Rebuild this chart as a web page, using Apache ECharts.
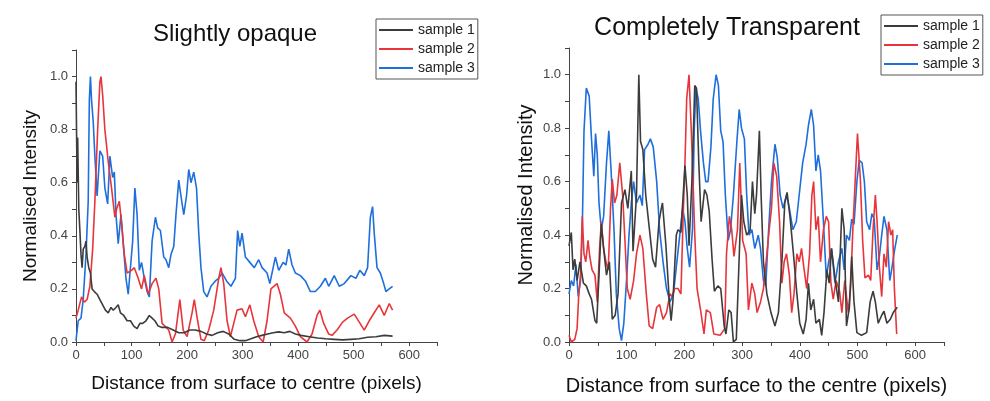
<!DOCTYPE html>
<html>
<head>
<meta charset="utf-8">
<script src="https://cdn.jsdelivr.net/npm/echarts@6/dist/echarts.min.js"></script>
<style>
  html, body { margin: 0; padding: 0; background: #fff; }
  #chart { width: 990px; height: 401px; }
</style>
</head>
<body>
<div id="chart"></div>
<script>
// Slightly opaque, [distance, intensity]
const opaque1 = [[0,0.98],[2,0.6],[3,0.77],[5,0.5],[7,0.42],[9,0.33],[11,0.28],[13,0.35],[16,0.36],[18,0.38],[20,0.32],[23,0.28],[26,0.26],[29,0.2],[33,0.19],[38,0.18],[43,0.16],[48,0.14],[53,0.12],[58,0.11],[63,0.13],[67,0.12],[72,0.13],[76,0.14],[80,0.11],[86,0.1],[92,0.08],[98,0.08],[104,0.06],[110,0.05],[115,0.07],[120,0.07],[126,0.08],[132,0.1],[137,0.09],[142,0.08],[148,0.06],[155,0.055],[165,0.055],[175,0.045],[185,0.035],[195,0.035],[205,0.045],[215,0.045],[225,0.04],[235,0.03],[245,0.025],[255,0.035],[265,0.04],[275,0.03],[285,0.01],[295,0.005],[305,0.005],[315,0.012],[325,0.02],[335,0.025],[345,0.03],[355,0.035],[365,0.038],[375,0.035],[385,0.04],[395,0.03],[405,0.025],[420,0.02],[435,0.015],[450,0.012],[465,0.01],[480,0.008],[495,0.01],[510,0.012],[525,0.018],[540,0.02],[555,0.025],[570,0.022]];
const opaque2 = [[0,0.09],[4,0.12],[10,0.17],[15,0.15],[20,0.16],[25,0.21],[30,0.35],[34,0.53],[39,0.8],[43,0.98],[45,1.0],[48,0.93],[52,0.8],[58,0.68],[64,0.58],[70,0.47],[73,0.5],[78,0.53],[82,0.45],[87,0.33],[92,0.26],[100,0.27],[105,0.28],[112,0.24],[118,0.2],[123,0.25],[130,0.18],[137,0.22],[144,0.24],[149,0.2],[155,0.07],[160,0.06],[167,0.045],[173,0.0],[179,0.03],[187,0.16],[193,0.045],[200,0.02],[209,0.11],[213,0.16],[219,0.08],[225,0.01],[231,0.005],[239,0.045],[248,0.12],[257,0.24],[261,0.28],[266,0.22],[272,0.08],[278,0.02],[284,0.07],[290,0.12],[299,0.125],[305,0.095],[313,0.14],[320,0.08],[329,0.02],[337,0.0],[344,0.08],[351,0.2],[362,0.22],[368,0.18],[375,0.11],[386,0.09],[395,0.06],[404,0.02],[416,0.0],[425,0.03],[434,0.1],[439,0.12],[446,0.07],[455,0.03],[461,0.025],[470,0.045],[480,0.075],[489,0.09],[501,0.105],[510,0.075],[519,0.045],[528,0.08],[537,0.11],[546,0.14],[555,0.1],[564,0.145],[570,0.12]];
const opaque3 = [[0,0.005],[4,0.08],[9,0.09],[13,0.16],[18,0.33],[22,0.53],[24,0.91],[26,1.0],[28,0.91],[31,0.83],[34,0.7],[38,0.55],[43,0.72],[48,0.7],[52,0.58],[57,0.52],[61,0.7],[66,0.62],[69,0.64],[72,0.48],[76,0.37],[81,0.48],[85,0.37],[90,0.24],[94,0.18],[97,0.18],[102,0.38],[106,0.58],[110,0.48],[114,0.27],[118,0.3],[123,0.24],[128,0.19],[132,0.17],[137,0.38],[143,0.47],[147,0.43],[152,0.42],[158,0.32],[162,0.31],[167,0.28],[171,0.33],[176,0.36],[180,0.48],[185,0.61],[189,0.55],[194,0.48],[199,0.55],[203,0.65],[207,0.6],[212,0.64],[217,0.58],[221,0.41],[225,0.28],[230,0.19],[236,0.17],[243,0.21],[251,0.23],[257,0.24],[263,0.26],[271,0.23],[279,0.21],[287,0.24],[291,0.42],[295,0.36],[299,0.41],[305,0.32],[313,0.3],[321,0.28],[329,0.31],[335,0.28],[344,0.26],[349,0.22],[355,0.28],[359,0.32],[365,0.27],[373,0.3],[378,0.29],[383,0.35],[389,0.29],[395,0.26],[404,0.25],[413,0.23],[422,0.19],[431,0.19],[440,0.21],[449,0.24],[455,0.21],[465,0.25],[474,0.21],[483,0.22],[495,0.25],[504,0.24],[511,0.27],[519,0.25],[525,0.28],[530,0.47],[534,0.51],[537,0.41],[542,0.28],[548,0.26],[554,0.22],[558,0.19],[564,0.2],[570,0.21]];

// Completely transparent, [distance, intensity]
const clear1 = [[0,0.36],[4,0.41],[7,0.27],[10,0.31],[14,0.23],[19,0.3],[25,0.22],[30,0.21],[35,0.18],[39,0.16],[45,0.08],[48,0.07],[52,0.25],[56,0.44],[60,0.35],[65,0.25],[70,0.3],[75,0.085],[80,0.1],[85,0.18],[91,0.52],[97,0.57],[102,0.5],[108,0.64],[111,0.34],[117,0.55],[121,1.0],[124,0.75],[128,0.72],[133,0.55],[139,0.43],[145,0.31],[150,0.28],[156,0.45],[160,0.5],[162,0.52],[168,0.36],[174,0.15],[177,0.08],[180,0.15],[186,0.4],[189,0.42],[194,0.41],[201,0.66],[205,0.55],[208,0.36],[213,0.6],[218,0.96],[221,0.95],[225,0.67],[229,0.45],[235,0.57],[239,0.55],[243,0.49],[248,0.31],[252,0.19],[258,0.21],[263,0.2],[269,0.06],[272,0.03],[277,0.12],[281,0.11],[285,0.0],[290,0.01],[296,0.38],[299,0.55],[303,0.45],[308,0.4],[314,0.42],[318,0.6],[322,0.48],[325,0.55],[330,0.79],[333,0.55],[337,0.3],[343,0.18],[350,0.11],[357,0.06],[363,0.11],[369,0.3],[374,0.52],[378,0.56],[383,0.47],[389,0.33],[395,0.18],[400,0.07],[406,0.03],[411,0.085],[415,0.22],[419,0.12],[424,0.16],[428,0.07],[434,0.085],[438,0.025],[442,0.11],[447,0.27],[451,0.22],[455,0.35],[461,0.24],[467,0.15],[473,0.5],[477,0.42],[481,0.06],[486,0.13],[490,0.32],[494,0.15],[499,0.035],[507,0.025],[516,0.035],[522,0.15],[527,0.19],[531,0.15],[536,0.07],[542,0.1],[546,0.115],[551,0.07],[557,0.085],[562,0.11],[569,0.13]];
const clear2 = [[0,0.025],[4,0.0],[10,0.01],[14,0.05],[17,0.18],[20,0.25],[23,0.47],[26,0.33],[29,0.3],[33,0.38],[36,0.32],[40,0.27],[45,0.25],[49,0.15],[53,0.35],[56,0.45],[60,0.35],[64,0.3],[68,0.27],[72,0.5],[75,0.61],[79,0.52],[83,0.55],[88,0.67],[93,0.55],[97,0.38],[101,0.2],[106,0.16],[112,0.23],[117,0.33],[123,0.4],[128,0.35],[134,0.18],[139,0.06],[145,0.05],[152,0.13],[157,0.14],[163,0.085],[169,0.11],[175,0.18],[179,0.17],[183,0.2],[189,0.2],[194,0.18],[198,0.48],[201,0.67],[204,0.91],[208,1.0],[212,0.79],[215,0.6],[218,0.4],[222,0.2],[228,0.12],[234,0.03],[238,0.12],[245,0.11],[251,0.03],[262,0.025],[270,0.05],[273,0.33],[278,0.47],[282,0.42],[286,0.32],[292,0.42],[296,0.67],[301,0.38],[307,0.33],[311,0.12],[317,0.22],[322,0.18],[326,0.11],[332,0.15],[337,0.2],[343,0.33],[347,0.42],[351,0.5],[355,0.67],[360,0.62],[365,0.45],[369,0.22],[373,0.3],[377,0.33],[382,0.25],[386,0.11],[390,0.18],[395,0.33],[399,0.3],[403,0.35],[407,0.28],[412,0.2],[417,0.33],[421,0.55],[424,0.6],[428,0.42],[432,0.47],[436,0.3],[441,0.42],[446,0.47],[450,0.45],[454,0.22],[458,0.16],[463,0.23],[469,0.19],[473,0.11],[478,0.23],[484,0.11],[488,0.2],[492,0.42],[496,0.6],[500,0.78],[505,0.61],[509,0.38],[513,0.24],[519,0.25],[523,0.23],[527,0.42],[531,0.55],[534,0.45],[538,0.28],[542,0.17],[546,0.33],[550,0.28],[554,0.45],[558,0.4],[561,0.42],[564,0.2],[568,0.03]];
const clear3 = [[0,0.18],[4,0.23],[8,0.21],[12,0.29],[16,0.17],[20,0.23],[23,0.42],[26,0.79],[30,0.95],[35,0.92],[39,0.76],[43,0.62],[46,0.78],[49,0.7],[52,0.52],[56,0.42],[60,0.47],[65,0.67],[69,0.79],[73,0.64],[78,0.42],[82,0.18],[87,0.05],[91,0.005],[95,0.07],[100,0.24],[104,0.4],[108,0.52],[112,0.6],[117,0.52],[123,0.55],[127,0.51],[131,0.72],[137,0.74],[141,0.76],[146,0.73],[152,0.6],[157,0.42],[163,0.3],[169,0.2],[175,0.15],[181,0.18],[186,0.28],[192,0.4],[197,0.5],[201,0.45],[205,0.35],[209,0.28],[214,0.42],[217,0.79],[220,0.95],[224,0.91],[228,0.79],[233,0.67],[237,0.6],[241,0.6],[246,0.73],[250,0.91],[255,1.0],[259,0.96],[263,0.79],[267,0.75],[271,0.55],[276,0.38],[280,0.42],[285,0.55],[291,0.75],[295,0.87],[299,0.8],[304,0.76],[308,0.55],[312,0.4],[317,0.42],[322,0.35],[328,0.4],[332,0.35],[337,0.23],[341,0.21],[346,0.42],[351,0.6],[357,0.74],[361,0.69],[366,0.55],[371,0.5],[377,0.55],[382,0.5],[388,0.42],[394,0.45],[399,0.55],[405,0.67],[411,0.74],[415,0.81],[420,0.87],[424,0.81],[428,0.64],[432,0.7],[436,0.64],[441,0.45],[446,0.24],[450,0.3],[455,0.35],[461,0.22],[467,0.3],[473,0.35],[477,0.27],[481,0.4],[486,0.38],[490,0.46],[494,0.44],[499,0.6],[503,0.68],[508,0.67],[512,0.6],[516,0.45],[521,0.42],[525,0.48],[529,0.46],[534,0.27],[538,0.32],[542,0.4],[546,0.47],[551,0.42],[556,0.23],[560,0.28],[564,0.34],[569,0.4]];

const sampleNames = ['sample 1', 'sample 2', 'sample 3'];
const sampleColors = ['#3c3c3c', '#e8353b', '#1e6fdc'];

const font = 'Liberation Sans, Arial, sans-serif';

function xAxisFor(grid, name, size, gap) {
  return {
    type: 'value', gridIndex: grid, min: 0, max: 650, interval: 50,
    name: name, nameLocation: 'middle', nameGap: gap,
    nameTextStyle: {fontSize: size, color: '#111', fontFamily: font},
    axisLine: {lineStyle: {color: '#444', width: 1}},
    axisTick: {length: 4, lineStyle: {color: '#444'}},
    axisLabel: {
      fontSize: 13, color: '#444', fontFamily: font, margin: 7,
      formatter: v => (Math.round(v) % 100 === 0 && v <= 600) ? String(v) : ''
    },
    splitLine: {show: false}
  };
}

function yAxisFor(grid, gap, size) {
  return {
    type: 'value', gridIndex: grid, min: 0, max: 1.1, interval: 0.1,
    name: 'Normalised Intensity', nameLocation: 'middle', nameGap: gap,
    nameTextStyle: {fontSize: size, color: '#111', fontFamily: font},
    axisLine: {show: true, lineStyle: {color: '#444', width: 1}},
    axisTick: {show: true, length: 4, lineStyle: {color: '#444'}},
    axisLabel: {
      fontSize: 13, color: '#444', fontFamily: font, margin: 8,
      formatter: v => {
        const t = Math.round(v * 10);
        return (t % 2 === 0 && t <= 10) ? (t / 10).toFixed(1) : '';
      }
    },
    splitLine: {show: false}
  };
}

function legendFor(grid, left, top) {
  return {
    orient: 'vertical', left: left, top: top,
    data: sampleNames.map(n => ({name: n})),
    icon: 'rect', itemWidth: 34, itemHeight: 2, itemGap: 3,
    padding: [3, 3, 3, 3],
    borderColor: '#555', borderWidth: 1,
    textStyle: {fontSize: 14, color: '#222', fontFamily: font, lineHeight: 16},
    selectedMode: false
  };
}

function seriesFor(grid, lists) {
  return lists.map((d, i) => ({
    name: sampleNames[i], type: 'line', xAxisIndex: grid, yAxisIndex: grid,
    data: d, showSymbol: false, symbol: 'none',
    lineStyle: {color: sampleColors[i], width: 1.6},
    itemStyle: {color: sampleColors[i]},
    z: 3 - i
  }));
}

const chart = echarts.init(document.getElementById('chart'));

chart.setOption({
  animation: false,
  color: sampleColors,
  title: [
    {text: 'Slightly opaque', left: 235, top: 22, textAlign: 'center', padding: 0,
     textStyle: {fontSize: 24, fontWeight: 'normal', color: '#111', fontFamily: font}},
    {text: 'Completely Transparent', left: 727, top: 16, textAlign: 'center', padding: 0,
     textStyle: {fontSize: 25, fontWeight: 'normal', color: '#111', fontFamily: font}}
  ],
  legend: [legendFor(0, 376, 19), legendFor(1, 881, 15)],
  grid: [
    {left: 76, top: 50, width: 361, height: 292},
    {left: 569, top: 48, width: 375, height: 302}
  ],
  xAxis: [
    xAxisFor(0, 'Distance from surface to centre (pixels)', 19, 32),
    xAxisFor(1, 'Distance from surface to the centre (pixels)', 20, 34)
  ],
  yAxis: [yAxisFor(0, 36, 19), yAxisFor(1, 33, 20)],
  series: seriesFor(0, [opaque1, opaque2, opaque3]).concat(seriesFor(1, [clear1, clear2, clear3]))
});
</script>
</body>
</html>
